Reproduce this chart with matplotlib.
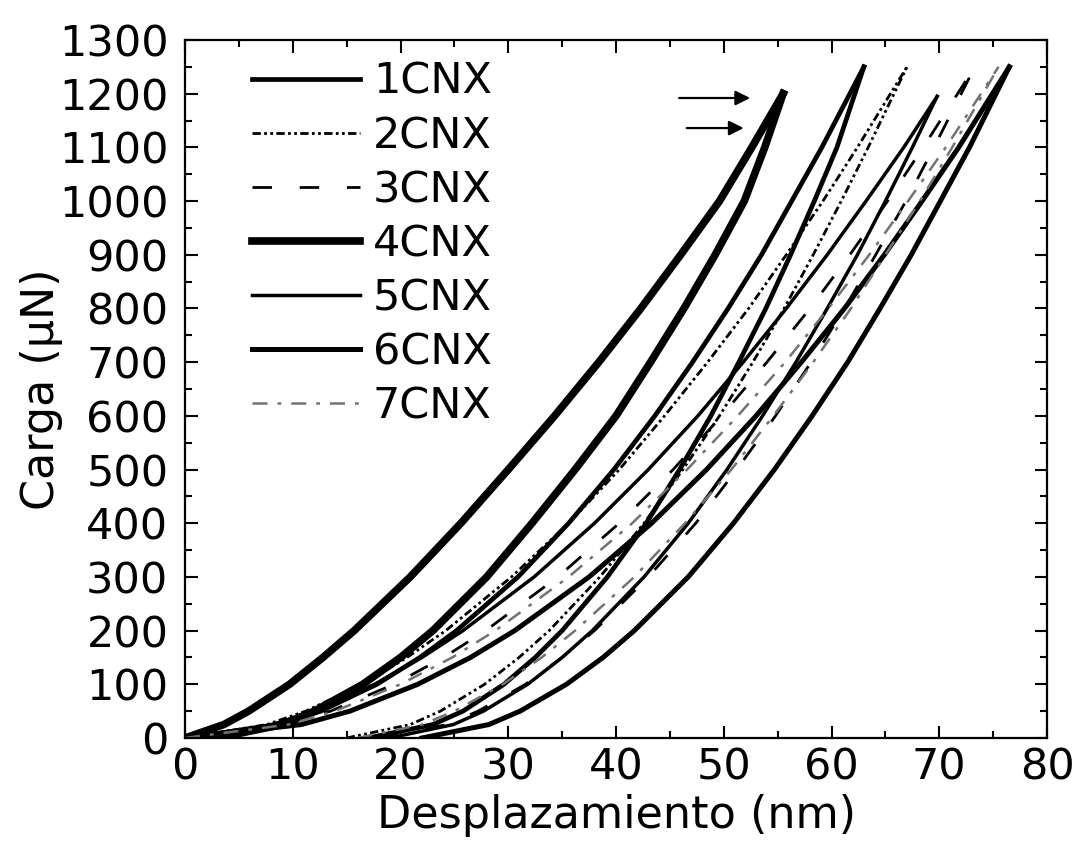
import matplotlib
matplotlib.use("Agg")
import matplotlib.pyplot as plt
from matplotlib.ticker import MultipleLocator

# Curvas de nanoindentacion leidas de la figura
# profundidad (nm) para cada nivel de carga (uN); carga maxima al final
samples = ["1CNX", "2CNX", "3CNX", "4CNX", "5CNX", "6CNX", "7CNX"]

load_levels = [0, 25, 50, 100, 150, 200, 300, 400, 500, 600, 700, 800, 900, 1000, 1100]
peak_load = {"1CNX": 1250, "2CNX": 1250, "3CNX": 1250, "4CNX": 1200,
             "5CNX": 1195, "6CNX": 1250, "7CNX": 1250}

# rama de carga
load_1cnx = [0, 8.9, 12.6, 17.8, 21.8, 25.2, 30.9, 35.6, 39.8, 43.6, 47.1, 50.4, 53.5, 56.3, 59.1, 63.0]
load_2cnx = [0, 7.6, 11.2, 16.5, 20.6, 24.2, 30.3, 35.6, 40.3, 44.5, 48.5, 52.3, 55.8, 59.2, 62.4, 67.0]
load_3cnx = [0, 9.4, 13.5, 19.4, 24.0, 27.9, 34.6, 40.3, 45.3, 49.8, 54.0, 58.0, 61.7, 65.2, 68.5, 73.3]
load_4cnx = [0, 3.6, 5.9, 9.7, 12.8, 15.7, 20.9, 25.6, 30.0, 34.3, 38.4, 42.3, 46.0, 49.6, 52.6, 55.5]
load_5cnx = [0, 8.1, 12.0, 17.6, 22.0, 25.8, 32.4, 38.0, 43.0, 47.6, 51.8, 55.8, 59.6, 63.2, 66.7, 69.8]
load_6cnx = [0, 10.8, 15.3, 21.6, 26.5, 30.6, 37.5, 43.3, 48.4, 53.0, 57.2, 61.2, 64.9, 68.4, 71.8, 76.5]
load_7cnx = [0, 9.6, 13.9, 20.0, 24.8, 28.8, 35.6, 41.5, 46.6, 51.3, 55.7, 59.7, 63.5, 67.1, 70.6, 75.5]

# rama de descarga (mismos niveles de carga)
unload_1cnx = [17.0, 23.0, 25.8, 29.6, 32.5, 35.0, 39.2, 42.8, 45.9, 48.8, 51.4, 53.9, 56.2, 58.4, 60.5, 63.0]
unload_2cnx = [15.0, 20.9, 23.7, 27.8, 31.0, 33.8, 38.5, 42.6, 46.2, 49.6, 52.7, 55.6, 58.3, 60.9, 63.4, 67.0]
unload_3cnx = [18.0, 24.3, 27.2, 31.6, 35.0, 38.0, 43.0, 47.4, 51.2, 54.8, 58.1, 61.2, 64.1, 66.9, 69.5, 73.3]
unload_4cnx = [3.0, 9.0, 12.0, 16.5, 20.0, 23.0, 28.0, 32.2, 36.2, 40.0, 43.2, 46.3, 49.2, 51.9, 53.8, 55.5]
unload_5cnx = [19.0, 24.9, 27.7, 31.8, 35.0, 37.8, 42.6, 46.7, 50.3, 53.6, 56.7, 59.6, 62.4, 65.0, 67.5, 69.8]
unload_6cnx = [22.0, 28.2, 31.1, 35.4, 38.8, 41.7, 46.7, 50.9, 54.7, 58.2, 61.5, 64.5, 67.4, 70.1, 72.8, 76.5]
unload_7cnx = [16.0, 22.0, 25.0, 29.5, 33.1, 36.2, 41.7, 46.4, 50.7, 54.6, 58.3, 61.8, 65.0, 68.2, 71.2, 75.5]

curves = {
    "1CNX": (load_1cnx, unload_1cnx),
    "2CNX": (load_2cnx, unload_2cnx),
    "3CNX": (load_3cnx, unload_3cnx),
    "4CNX": (load_4cnx, unload_4cnx),
    "5CNX": (load_5cnx, unload_5cnx),
    "6CNX": (load_6cnx, unload_6cnx),
    "7CNX": (load_7cnx, unload_7cnx),
}

styles = {
    "1CNX": dict(color="black", lw=3.4, ls="-"),
    "2CNX": dict(color="black", lw=2.0, ls=(0, (3, 1.2, 1, 1.2, 1, 1.2))),
    "3CNX": dict(color="black", lw=2.0, ls=(0, (7, 10))),
    "4CNX": dict(color="black", lw=5.5, ls="-"),
    "5CNX": dict(color="black", lw=2.5, ls="-"),
    "6CNX": dict(color="black", lw=3.6, ls="-"),
    "7CNX": dict(color="0.45", lw=1.8, ls=(0, (6, 4, 1.5, 4))),
}

# flechas (x inicio, x fin, carga)
arrow_rows = [(45.6, 52.7, 1192), (46.3, 52.1, 1136)]

FS = 31


def main():
    fig = plt.figure(figsize=(10.74, 8.57), dpi=100)
    ax = fig.add_axes([0.1723, 0.1389, 0.8026, 0.8144])

    handles = []
    for name in samples:
        h_up, h_down = curves[name]
        loads = load_levels + [peak_load[name]]
        line, = ax.plot(h_up, loads, label=name, solid_joinstyle="round", **styles[name])
        ax.plot(h_down, loads, solid_joinstyle="round", **styles[name])
        handles.append(line)

    for x0, x1, y in arrow_rows:
        ax.annotate("", xy=(x1, y), xytext=(x0, y),
                    arrowprops=dict(arrowstyle="-|>", lw=1.6, color="black",
                                    mutation_scale=22))

    ax.set_xlim(0, 80)
    ax.set_ylim(0, 1300)
    ax.xaxis.set_major_locator(MultipleLocator(10))
    ax.xaxis.set_minor_locator(MultipleLocator(5))
    ax.yaxis.set_major_locator(MultipleLocator(100))
    ax.yaxis.set_minor_locator(MultipleLocator(50))

    ax.tick_params(which="both", direction="in", top=True, right=True,
                   width=1.5, labelsize=FS)
    ax.tick_params(which="major", length=9)
    ax.tick_params(which="minor", length=5)
    ax.tick_params(axis="y", pad=12)
    ax.tick_params(axis="x", pad=6)
    for sp in ax.spines.values():
        sp.set_linewidth(1.6)

    ax.set_xlabel("Desplazamiento (nm)", fontsize=32, labelpad=4)
    ax.set_ylabel("Carga (μN)", fontsize=32, labelpad=-3)

    ax.legend(handles=handles, loc="upper left", bbox_to_anchor=(0.078, 0.97),
              frameon=False, fontsize=FS, handlelength=2.5, labelspacing=0.28,
              handletextpad=0.3, borderpad=0, borderaxespad=0)

    fig.savefig("out.png", dpi=100)
    plt.close(fig)


if __name__ == "__main__":
    main()
